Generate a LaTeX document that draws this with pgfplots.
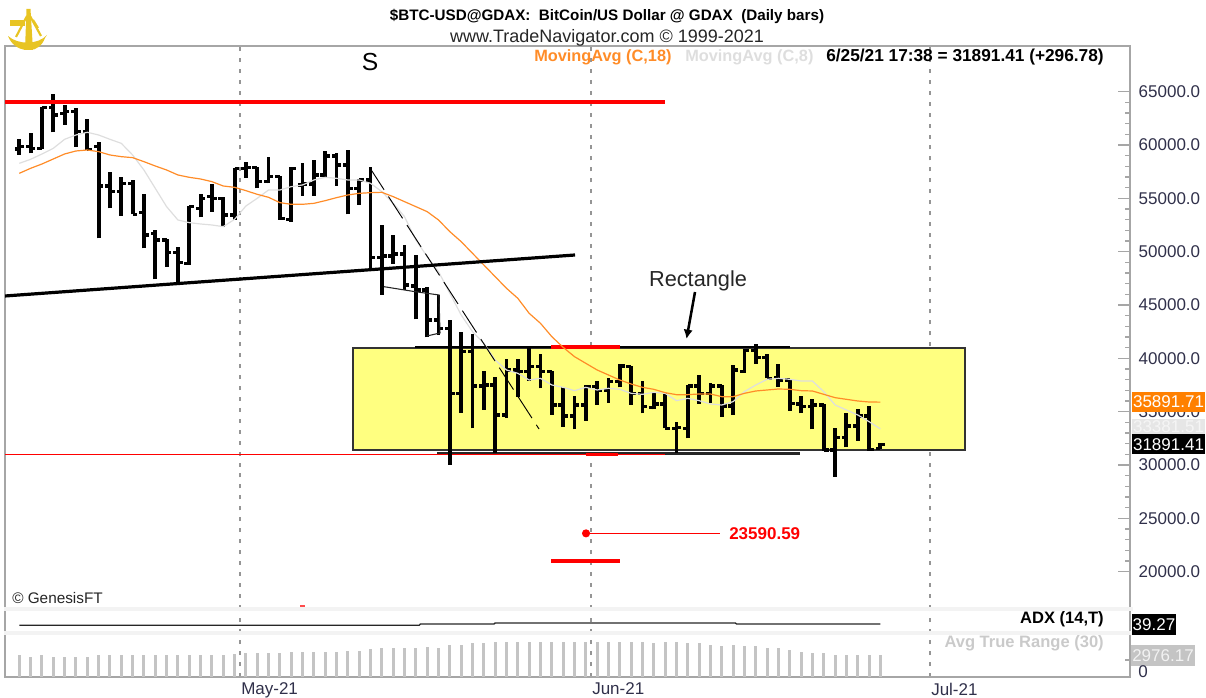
\documentclass[border=0pt]{standalone}
\usepackage{fontspec}
\setmainfont{Liberation Sans}
\usepackage{pgfplots}
\usepackage{pgfplotstable}
\usetikzlibrary{arrows.meta}
\pgfplotsset{compat=1.18}
\definecolor{fr}{HTML}{A6A6A6}
\definecolor{tk}{HTML}{30304A}
\definecolor{ma18}{HTML}{FF8C28}
\definecolor{ma8}{HTML}{DEDEDE}
\definecolor{rc}{HTML}{FFFF80}
\definecolor{atrc}{HTML}{C4C4C4}
\definecolor{band}{HTML}{F3F3F3}
\definecolor{gold}{HTML}{E8C423}
\definecolor{boxo}{HTML}{FF8000}
\definecolor{boxg}{HTML}{E6E6E6}
\pgfplotstableread{
i o h l c mb mc atr
0 59625 60531 59063 59844 57344 58281 2970
1 59844 61094 59219 59688 57813 58656 2740
2 59688 63594 59625 63531 58219 59157 2970
3 63531 64781 61188 62813 58688 59688 2740
4 62969 63750 61875 63125 59157 60531 2740
5 63125 63438 59844 61250 59438 60938 2740
6 61250 62406 59531 59594 59531 61188 2740
7 59844 60313 51250 56156 59375 60938 2970
8 56156 57500 54063 55625 59063 60531 2970
9 55625 56969 53344 56406 58906 60156 2970
10 56406 56719 53500 53500 58813 59063 2970
11 53656 55375 50313 51563 58438 57656 2970
12 51719 52031 47406 51094 58031 55938 2970
13 51094 51156 48594 49906 57656 54219 2970
14 49906 50469 47031 48969 57188 52969 2970
15 48906 54281 48750 54219 56969 52719 2970
16 54063 55406 53219 55000 56813 52594 2970
17 55156 56344 53750 55000 56563 52500 2970
18 55000 55094 52344 53438 56156 52344 2970
19 53438 57875 52969 57813 56031 53031 3105
20 57813 58438 56938 57906 55719 54281 3200
21 57906 57969 55938 56563 55375 55000 3200
22 56563 58844 56406 57031 55094 55781 3200
23 57031 57125 52969 53125 54594 55781 3200
24 53031 57906 52813 57813 54438 56094 3335
25 56250 58344 55219 56344 54438 56250 3335
26 56344 58594 55219 57188 54531 56719 3335
27 57188 59469 57031 58969 54781 56969 3335
28 58969 59281 56156 58125 55063 56875 3335
29 58125 59531 53500 55938 55313 56719 3550
30 55938 56781 54375 56719 55469 56719 3550
31 56719 57906 48344 49469 55531 56406 3740
32 49469 52500 45938 49594 55562 55625 3875
33 49594 51563 48844 49781 55156 54531 3875
34 49781 50625 46406 46875 54688 53281 3875
35 46781 49688 43656 46406 54219 51094 3875
36 46406 46656 41969 43594 53750 49531 4090
37 43594 45938 42188 42813 52969 48125 3915
38 42813 43594 30000 36719 51875 46094 4280
39 36719 42500 34906 40625 50938 44063 4320
40 40625 42281 33438 37406 49844 42500 4550
41 37406 38844 35156 37500 48750 41406 4550
42 37500 38281 31156 34688 47656 39844 4725
43 34688 39906 34438 38906 46563 38906 4725
44 38906 39906 36406 38750 45625 38594 4725
45 38750 40938 37906 39219 44219 37969 4725
46 39219 40406 37188 38750 43281 38125 4725
47 38750 38844 34688 35625 42031 37500 4725
48 35625 37344 33594 34594 41031 37281 4725
49 34594 36469 33344 35625 40156 36969 4725
50 35625 37500 34156 37344 39531 37281 4725
51 37344 37906 35625 36969 38906 37031 4725
52 36969 38125 35844 37813 38438 37188 4725
53 37813 39469 37281 39281 37969 37094 4725
54 39219 39300 35625 36719 37594 36719 4725
55 36719 37906 34844 35469 37281 36625 4725
56 35406 36719 35219 35719 37094 36812 4550
57 35719 36719 33438 33438 36781 36719 4725
58 33438 34063 31094 33531 36594 36031 4725
59 33438 37500 32500 37406 36594 36250 4550
60 37406 38438 35719 36719 36656 36031 4550
61 36719 37656 35781 37406 36656 35719 4320
62 37406 37500 34531 35531 36406 35625 4185
63 35531 39375 34688 38906 36406 35938 4320
64 38750 40844 38656 40719 36719 36875 4185
65 40719 41344 39469 40094 36938 37500 4185
66 40094 40406 38125 38125 37031 38031 3955
67 38219 39469 37344 37969 37125 38125 3955
68 37969 38031 35094 35781 37094 38031 3605
69 35719 36469 34844 35469 36969 37875 3375
70 35469 36156 33344 35625 36938 37875 3200
71 35625 35719 31344 31406 36625 36875 3200
72 31406 33438 28906 32594 36313 35625 3010
73 32594 34906 31656 33656 36156 35156 3010
74 33656 35219 32281 34594 36000 34688 3010
75 34594 35531 31344 31469 35906 34063 3010
76 31563 32094 31469 31891.41 35891.71 33381.51 2976.17
}\bars
\pgfplotsset{
  panel/.style={
    scale only axis, width=843.75pt,
    xmin=-1.262, xmax=98.03,
    axis line style={draw=fr,line width=1.5pt},
    xmajorgrids,
    xtick={19.48,50.46,80.38},
    grid style={draw=fr!90!black,line width=1.1pt,dash pattern=on 3pt off 5.2pt},
    ytick pos=right, xtick pos=bottom,
    major x tick style={draw=none},
    tick style={draw=fr,line width=1pt},
    tick align=inside,
    xticklabels={},
    scaled y ticks=false,
    tick label style={text=tk,font=\fontsize{12.75}{15}\selectfont},
  }
}
\begin{document}
\begin{tikzpicture}
\path[use as bounding box] (0,0) rectangle (904.5pt,523.5pt);
% main panel
\begin{axis}[panel, at={(3.75pt,66.975pt)}, anchor=south west, height=422.025pt,
  ymin=16528, ymax=69281,
  ytick={20000,25000,30000,35000,40000,45000,50000,55000,60000,65000},
  yticklabels={20000.0,25000.0,30000.0,35000.0,40000.0,45000.0,50000.0,55000.0,60000.0,65000.0},
  minor y tick num=4, major tick length=9pt, minor tick length=4pt,
  yticklabel style={xshift=3pt},
]
\addplot[fill=rc,draw=black!80,line width=1.9pt] coordinates {(29.45,40969)(83.47,40969)(83.47,31406)(29.45,31406)} -- cycle;
% red and black horizontal lines
\addplot[red,line width=1.1pt] coordinates {(-1.262,30984)(56.99,30984)};
\addplot[black!85,line width=2.3pt] coordinates {(36.87,31078)(68.9,31078)};
\addplot[red,line width=1.1pt] coordinates {(36.87,30984)(56.99,30984)};
\addplot[red,line width=2.2pt] coordinates {(50.02,30950)(52.84,30950)};
\addplot[black,line width=2.2pt] coordinates {(34.93,41062)(68.02,41062)};
\addplot[red,line width=2.6pt] coordinates {(46.93,41062)(53.02,41062)};
\addplot[draw=none,forget plot,error bars/.cd,y dir=plus,y explicit,error mark=none,error bar style={draw=black,line width=2.9pt}]
  table[x=i,y=l,y error plus expr=\thisrow{h}-\thisrow{l}] {\bars};
\addplot[draw=none,forget plot,error bars/.cd,x dir=minus,x fixed=0.42,error mark=none,error bar style={draw=black,line width=2.4pt}]
  table[x=i,y=o] {\bars};
\addplot[draw=none,forget plot,error bars/.cd,x dir=plus,x fixed=0.42,error mark=none,error bar style={draw=black,line width=2.4pt}]
  table[x=i,y=c] {\bars};
\addplot[ma8,line width=0.9pt] table[x=i,y=mc] {\bars};
\addplot[ma18,line width=0.9pt] table[x=i,y=mb] {\bars};
% annotations
\addplot[red,line width=2.4pt] coordinates {(-1.262,64031)(57.0,64031)};
\addplot[black,line width=2.4pt] coordinates {(-1.262,45844)(49.05,49688)};
\addplot[black,line width=0.7pt,dash pattern=on 19.5pt off 6pt] coordinates {(30.95,57844)(45.87,33375)};
\addplot[black!85,line width=0.8pt] coordinates {(32.19,46716)(34.93,46247)(37.04,45938)(37.13,42375)(35.98,42094)};
\addplot[red,line width=1.2pt,mark=*,mark size=2.4pt,mark indices={1}] coordinates {(50.02,23590.59)(61.84,23590.59)};
\addplot[red,line width=2.3pt] coordinates {(46.93,21000)(53.02,21000)};
\addplot[red!70,line width=1.2pt] coordinates {(24.8,16800)(25.2,16800)};
\end{axis}
% ADX panel
\begin{axis}[panel, at={(3.75pt,48.75pt)}, anchor=south west, height=18.225pt,
  ymin=25.77, ymax=62.22, ytick=\empty]
\addplot[black!85,line width=1pt] coordinates {(0,37.32)(35.3,37.32)(35.4,39.27)(41.9,39.27)(42,40.77)(63.2,40.77)(63.3,39.27)(76,39.27)};
\end{axis}
% ATR panel
\begin{axis}[panel, at={(3.75pt,15.75pt)}, anchor=south west, height=33pt,
  ymin=0, ymax=5940, ytick={2300}, yticklabels={}, major tick length=4pt,
  xticklabels={May-21,Jun-21,Jul-21},
  xticklabel style={anchor=north west,xshift=-2.6pt,yshift=-1pt,text=tk},
]
\addplot[ycomb,atrc,line width=2.2pt] table[x=i,y=atr] {\bars};
\end{axis}
% overlay in pixel coordinates
\begin{scope}[x=0.75pt,y=-0.75pt,yshift=523.5pt]
\fill[band] (4,606.7) rectangle (1133,610.7);
\fill[band] (4,631) rectangle (1133,635);
\def\fa{\fontsize{12.75}{15}\selectfont}
\def\fb{\fontsize{12.25}{15}\selectfont\bfseries}
\node[font=\fontsize{11.4}{13}\selectfont\bfseries,anchor=center] at (607,16) {\$BTC-USD@GDAX:\ \ BitCoin/US Dollar @ GDAX\ \ (Daily bars)};
\node[font=\fontsize{13.5}{15}\selectfont,text=black!85,anchor=center] at (607,38) {www.TradeNavigator.com © 1999-2021};
\node[font=\fb,text=ma18,anchor=west,inner sep=0] at (534,57) {MovingAvg (C,18)};
\node[font=\fb,text=ma8,anchor=west,inner sep=0] at (685,57) {MovingAvg (C,8)};
\node[font=\fontsize{12.95}{15}\selectfont\bfseries,anchor=east,inner sep=0] at (1104,57) {6/25/21 17:38 = 31891.41 (+296.78)};
\node[font=\fontsize{18.5}{20}\selectfont,anchor=center,inner sep=0] at (370,62) {S};
\node[font=\fontsize{16.3}{18}\selectfont,anchor=center,inner sep=0,text=black!85] at (698,281) {Rectangle};
\draw[black,line width=1.9pt,-{Latex[length=7pt,width=7pt]}] (695,292) -- (686.5,339);
\node[font=\fa\bfseries,text=red,anchor=west,inner sep=0] at (729,534) {23590.59};
\node[font=\fontsize{11.5}{14}\selectfont,anchor=west,inner sep=0,text=black!85] at (12,598) {© GenesisFT};
\node[font=\fontsize{12.4}{14}\selectfont\bfseries,anchor=east,inner sep=0] at (1104,619) {ADX (14,T)};
\node[font=\fontsize{12.4}{14}\selectfont\bfseries,anchor=east,inner sep=0,text=atrc!90] at (1104,643) {Avg True Range (30)};
% value boxes
\fill[boxo] (1132,392) rectangle (1205,412);
\node[font=\fa,text=white,anchor=center,inner sep=0] at (1168.5,402) {35891.71};
\fill[boxg] (1132,419) rectangle (1205,434);
\node[font=\fa,text=white!96!black,anchor=center,inner sep=0] at (1168.5,427) {33381.51};
\fill[black] (1132,434) rectangle (1205,454.5);
\node[font=\fa,text=white,anchor=center,inner sep=0] at (1168.5,445) {31891.41};
\fill[black] (1132,614.5) rectangle (1176,635);
\node[font=\fa,text=white,anchor=center,inner sep=0] at (1154,625) {39.27};
\fill[atrc] (1131,645) rectangle (1195,666);
\node[font=\fa,text=white!95!black,anchor=center,inner sep=0] at (1163,655.5) {2976.17};
\node[font=\fa,text=tk,anchor=center,inner sep=0] at (1143,671.5) {0};
% logo
\fill[gold] (8,36) .. controls (18,45) and (38,45) .. (47,35) -- (45,38) .. controls (42,46) and (36,50) .. (30,50) -- (25,50) .. controls (18,49) and (11,44) .. (8,36) -- cycle;
\fill[gold] (26.5,9) -- (30.5,9) -- (33,50) -- (25,50) -- cycle;
\fill[gold] (10,20) rectangle (25,26);
\draw[gold,line width=1.6pt] (27,16) -- (16,37) (30,16) -- (41,36) (33,20) -- (38,28);
\end{scope}
\end{tikzpicture}
\end{document}
